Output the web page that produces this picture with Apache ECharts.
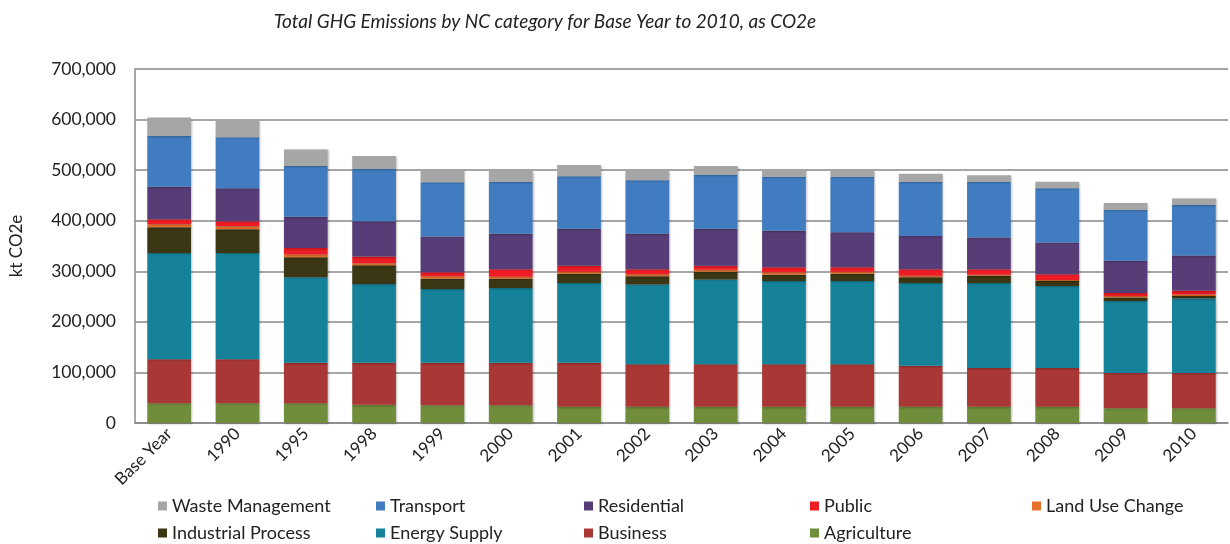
<!DOCTYPE html>
<html>
<head>
<meta charset="utf-8">
<script src="https://cdn.jsdelivr.net/npm/echarts@6/dist/echarts.min.js"></script>
<style>
  html, body { margin: 0; padding: 0; background: #fff; }
  #chart { width: 1230px; height: 544px; }
</style>
</head>
<body>
<div id="chart"></div>
<script>
const categories = ['Base Year', '1990', '1995', '1998', '1999', '2000', '2001', '2002', '2003', '2004', '2005', '2006', '2007', '2008', '2009', '2010'];

// kt CO2e, stacked bottom to top
const agriculture = [39000, 39000, 39000, 36000, 35000, 35000, 32000, 32000, 32000, 32000, 32000, 32000, 32000, 32000, 29000, 29000];
const business = [87000, 87000, 80000, 83000, 84000, 84000, 87000, 84000, 84000, 84000, 84000, 81000, 77000, 77000, 70000, 70000];
const energySupply = [210000, 210000, 169000, 156000, 146000, 148000, 158000, 158000, 168000, 165000, 165000, 164000, 168000, 162000, 142000, 147000];
const industrialProcess = [51000, 47000, 40000, 37000, 20000, 18000, 18000, 16000, 15000, 12000, 14000, 11000, 14000, 10000, 7000, 5000];
const landUseChange = [6000, 6000, 5000, 4000, 5000, 4000, 4000, 4000, 4000, 5000, 4000, 3000, 2000, 2000, 3000, 3000];
const publicSector = [10000, 10000, 13000, 13000, 8000, 15000, 12000, 10000, 8000, 10000, 9000, 13000, 11000, 11000, 6000, 8000];
const residential = [64000, 65000, 62000, 70000, 71000, 70000, 73000, 70000, 73000, 72000, 69000, 66000, 63000, 63000, 64000, 69000];
const transport = [101000, 101000, 100000, 104000, 107000, 103000, 104000, 106000, 107000, 107000, 110000, 107000, 110000, 107000, 100000, 100000];
const wasteManagement = [36000, 33000, 33000, 25000, 25000, 22000, 22000, 19000, 17000, 15000, 12000, 16000, 13000, 13000, 14000, 13000];

const yTicks = [0, 100000, 200000, 300000, 400000, 500000, 600000, 700000];

const font = 'Lato, "Noto Sans", sans-serif';

const stackOrder = [
  ['Agriculture', agriculture, '#6f8d3a'],
  ['Business', business, '#a83735'],
  ['Energy Supply', energySupply, '#168299'],
  ['Industrial Process', industrialProcess, '#3b3714'],
  ['Land Use Change', landUseChange, '#e8712a'],
  ['Public', publicSector, '#ee1c25'],
  ['Residential', residential, '#573d77'],
  ['Transport', transport, '#407cbf'],
  ['Waste Management', wasteManagement, '#a5a6a5']
];

// legend grid: [name, left, top]
const legendSpots = [
  ['Waste Management', 158, 496], ['Transport', 376, 496], ['Residential', 584, 496],
  ['Public', 810, 496], ['Land Use Change', 1032, 496],
  ['Industrial Process', 158, 523], ['Energy Supply', 376, 523], ['Business', 584, 523],
  ['Agriculture', 810, 523]
];

const chart = echarts.init(document.getElementById('chart'));
chart.setOption({
  animation: false,
  textStyle: { fontFamily: font },
  title: {
    text: 'Total GHG Emissions by NC category for Base Year to 2010, as CO2e',
    left: 540,
    textAlign: 'center',
    top: 7,
    textStyle: { fontFamily: font, fontStyle: 'italic', fontWeight: 'normal', fontSize: 19, color: '#222' }
  },
  legend: legendSpots.map(([name, left, top]) => ({
    left: left,
    top: top,
    itemWidth: 9,
    itemHeight: 9,
    icon: 'rect',
    padding: 0,
    textStyle: { fontFamily: font, fontSize: 18, color: '#222', lineHeight: 20 },
    data: [name]
  })),
  grid: { left: 130, right: 2, top: 69, bottom: 121 },
  xAxis: {
    type: 'category',
    data: categories,
    axisLine: { lineStyle: { color: '#888', width: 1.5 } },
    axisTick: { show: false },
    axisLabel: { rotate: 45, fontFamily: font, fontSize: 17, color: '#222', margin: 8 }
  },
  yAxis: {
    type: 'value',
    min: yTicks[0],
    max: yTicks[yTicks.length - 1],
    interval: 100000,
    name: 'kt CO2e',
    nameLocation: 'middle',
    nameRotate: 90,
    nameGap: 110,
    nameTextStyle: { fontFamily: font, fontSize: 17, color: '#222' },
    axisLine: { show: true, lineStyle: { color: '#888', width: 1.5 } },
    axisTick: { show: false },
    splitLine: { lineStyle: { color: '#888', width: 1.5 } },
    axisLabel: {
      fontFamily: font, fontSize: 17.5, color: '#222', margin: 19,
      formatter: v => v.toLocaleString('en-US')
    }
  },
  series: stackOrder.map(([name, values, color]) => ({
    name: name,
    type: 'bar',
    stack: 'total',
    barWidth: '64%',
    data: values,
    itemStyle: {
      color: color,
      shadowColor: 'rgba(0,0,0,0.25)',
      shadowBlur: 2,
      shadowOffsetX: 1,
      shadowOffsetY: 1
    }
  }))
});
</script>
</body>
</html>
